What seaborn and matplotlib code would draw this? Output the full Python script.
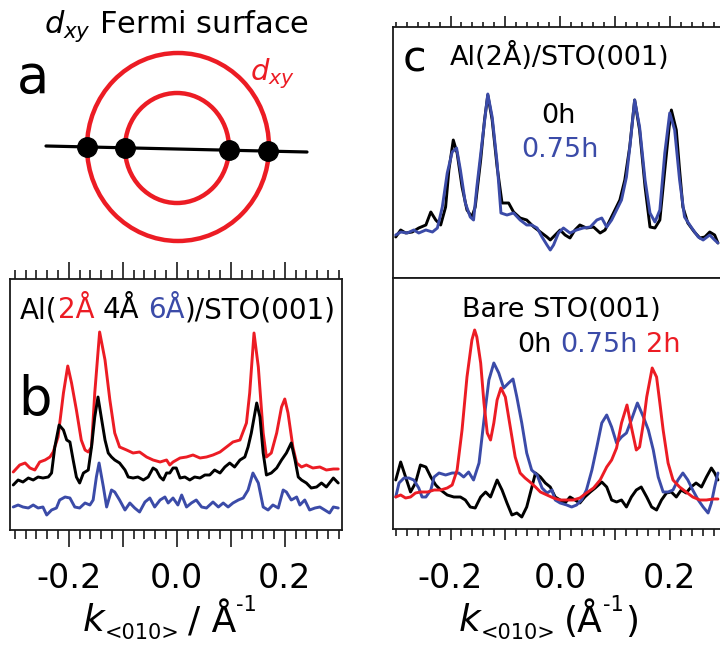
import numpy as np
import pandas as pd
import seaborn as sns
import matplotlib.pyplot as plt
from matplotlib.patches import Ellipse

RED = "#ec1c24"
BLUE = "#3b4ba8"
BLACK = "#000000"

# ---- panel b : Al(2,4,6 A)/STO(001) MDCs (intensity in arb. units, offset included)
kb_red = [-0.303, -0.291, -0.281, -0.272, -0.263, -0.254, -0.244, -0.235, -0.229, -0.220,
          -0.210, -0.202, -0.195, -0.186, -0.177, -0.170, -0.164, -0.158, -0.152, -0.143,
          -0.133, -0.124, -0.115, -0.106, -0.093, -0.081, -0.069, -0.056, -0.044, -0.031,
          -0.019, -0.013, -0.007, 0.006, 0.018, 0.030, 0.043, 0.055, 0.067, 0.080,
          0.092, 0.104, 0.117, 0.129, 0.135, 0.143, 0.151, 0.160, 0.166, 0.175,
          0.185, 0.194, 0.200, 0.206, 0.215, 0.222, 0.231, 0.240, 0.252, 0.265,
          0.277, 0.290, 0.299]
ib_red = [58, 65, 67, 62, 60, 68, 70, 73, 78, 93,
          137, 164, 147, 120, 90, 80, 78, 83, 137, 198,
          170, 130, 97, 83, 80, 77, 78, 73, 70, 68,
          70, 65, 68, 72, 73, 75, 72, 73, 75, 78,
          83, 88, 90, 107, 137, 197, 163, 97, 73, 77,
          97, 123, 131, 117, 83, 67, 63, 65, 62, 63,
          60, 61, 61]

kb_black = [-0.303, -0.294, -0.285, -0.275, -0.266, -0.257, -0.248, -0.238, -0.232, -0.226,
            -0.218, -0.210, -0.204, -0.198, -0.192, -0.186, -0.180, -0.173, -0.164, -0.158,
            -0.152, -0.146, -0.140, -0.133, -0.127, -0.121, -0.115, -0.106, -0.096, -0.090,
            -0.081, -0.072, -0.062, -0.053, -0.044, -0.038, -0.031, -0.025, -0.019, -0.013,
            -0.007, -0.001, 0.006, 0.015, 0.024, 0.033, 0.043, 0.052, 0.061, 0.070,
            0.080, 0.089, 0.098, 0.107, 0.117, 0.126, 0.132, 0.138, 0.148, 0.154,
            0.160, 0.166, 0.175, 0.185, 0.194, 0.203, 0.212, 0.219, 0.225, 0.231,
            0.240, 0.249, 0.259, 0.268, 0.277, 0.290, 0.299]
ib_black = [45, 50, 48, 52, 50, 53, 52, 53, 57, 83,
            105, 100, 90, 88, 70, 53, 47, 57, 60, 83,
            113, 133, 113, 90, 77, 73, 70, 67, 60, 53,
            52, 53, 50, 53, 62, 60, 53, 50, 57, 57,
            62, 62, 52, 53, 50, 53, 52, 55, 55, 60,
            57, 63, 67, 63, 70, 73, 83, 97, 127, 113,
            77, 55, 57, 62, 70, 77, 87, 70, 53, 50,
            47, 42, 43, 47, 43, 52, 47]

kb_blue = [-0.303, -0.294, -0.285, -0.275, -0.266, -0.257, -0.248, -0.241, -0.232, -0.223,
           -0.217, -0.207, -0.198, -0.189, -0.180, -0.170, -0.161, -0.155, -0.149, -0.144,
           -0.136, -0.130, -0.121, -0.115, -0.106, -0.096, -0.087, -0.078, -0.069, -0.059,
           -0.050, -0.041, -0.031, -0.022, -0.016, -0.007, 0.002, 0.009, 0.018, 0.027,
           0.036, 0.046, 0.055, 0.067, 0.077, 0.086, 0.095, 0.104, 0.114, 0.123,
           0.132, 0.141, 0.151, 0.160, 0.169, 0.178, 0.188, 0.197, 0.203, 0.212,
           0.222, 0.228, 0.237, 0.246, 0.256, 0.265, 0.274, 0.283, 0.290, 0.299]
ib_blue = [23, 25, 23, 22, 25, 22, 23, 15, 20, 22,
           30, 33, 32, 23, 22, 27, 25, 30, 53, 67,
           43, 23, 40, 38, 30, 20, 27, 22, 18, 28,
           32, 23, 30, 33, 27, 32, 25, 35, 23, 27,
           30, 23, 22, 28, 23, 27, 23, 27, 30, 32,
           40, 57, 47, 23, 20, 25, 22, 40, 38, 30,
           33, 25, 30, 20, 22, 23, 20, 17, 23, 22]

# ---- panel c top : Al(2A)/STO(001), 0h and 0.75h
kc1_0h = [-0.300, -0.291, -0.282, -0.270, -0.258, -0.245, -0.236, -0.227, -0.218, -0.209,
          -0.203, -0.195, -0.188, -0.179, -0.170, -0.161, -0.155, -0.145, -0.138, -0.132,
          -0.124, -0.115, -0.106, -0.094, -0.085, -0.073, -0.061, -0.048, -0.036, -0.024,
          -0.018, -0.009, 0.000, 0.009, 0.018, 0.027, 0.036, 0.048, 0.061, 0.073,
          0.082, 0.091, 0.100, 0.109, 0.118, 0.127, 0.136, 0.145, 0.155, 0.164,
          0.173, 0.182, 0.191, 0.199, 0.203, 0.212, 0.218, 0.224, 0.233, 0.245,
          0.255, 0.264, 0.273, 0.282, 0.288]
ic1_0h = [41, 48, 45, 46, 50, 53, 66, 58, 53, 71,
          108, 138, 125, 91, 68, 61, 71, 118, 158, 183,
          158, 111, 75, 75, 66, 60, 58, 51, 46, 41,
          38, 43, 48, 43, 40, 48, 53, 50, 51, 45,
          48, 58, 68, 78, 98, 131, 178, 148, 91, 51,
          50, 58, 108, 151, 168, 148, 108, 71, 55, 46,
          40, 41, 46, 43, 35]

kc1_075h = [-0.300, -0.291, -0.279, -0.267, -0.258, -0.245, -0.233, -0.224, -0.215, -0.206,
            -0.197, -0.189, -0.182, -0.173, -0.164, -0.158, -0.152, -0.142, -0.132, -0.124,
            -0.115, -0.108, -0.097, -0.085, -0.073, -0.061, -0.052, -0.042, -0.033, -0.024,
            -0.018, -0.012, -0.003, 0.006, 0.018, 0.030, 0.042, 0.055, 0.067, 0.076,
            0.085, 0.094, 0.103, 0.112, 0.121, 0.128, 0.136, 0.145, 0.155, 0.164,
            0.173, 0.182, 0.191, 0.200, 0.209, 0.218, 0.227, 0.239, 0.252, 0.261,
            0.273, 0.282, 0.288]
ic1_075h = [43, 46, 45, 48, 45, 48, 46, 50, 71, 105,
            126, 130, 108, 75, 61, 58, 91, 138, 184, 161,
            115, 65, 63, 65, 58, 53, 53, 50, 41, 33,
            28, 33, 45, 50, 45, 48, 50, 51, 58, 60,
            51, 58, 68, 78, 101, 135, 178, 151, 98, 65,
            56, 68, 125, 165, 148, 98, 61, 51, 41, 38,
            43, 38, 35]

# ---- panel c bottom : bare STO(001), 0h / 0.75h / 2h
kc2_0h = [-0.300, -0.291, -0.282, -0.273, -0.264, -0.255, -0.245, -0.236, -0.227, -0.218,
          -0.206, -0.194, -0.182, -0.173, -0.164, -0.155, -0.145, -0.136, -0.127, -0.115,
          -0.106, -0.097, -0.088, -0.079, -0.070, -0.061, -0.052, -0.045, -0.036, -0.027,
          -0.018, -0.009, 0.000, 0.009, 0.018, 0.027, 0.036, 0.045, 0.055, 0.064,
          0.076, 0.085, 0.094, 0.103, 0.112, 0.121, 0.130, 0.139, 0.148, 0.158,
          0.167, 0.176, 0.185, 0.194, 0.203, 0.212, 0.221, 0.230, 0.239, 0.248,
          0.258, 0.267, 0.276, 0.282, 0.288]
ic2_0h = [49, 67, 52, 37, 46, 64, 62, 52, 44, 39,
          34, 32, 32, 29, 22, 21, 32, 37, 32, 49,
          39, 26, 14, 16, 12, 22, 41, 56, 52, 46,
          42, 32, 29, 26, 32, 29, 26, 32, 37, 41,
          47, 42, 29, 27, 29, 22, 32, 39, 42, 32,
          22, 19, 29, 36, 37, 32, 39, 36, 42, 46,
          42, 52, 61, 56, 49]

kc2_075h = [-0.300, -0.294, -0.285, -0.276, -0.267, -0.258, -0.252, -0.245, -0.236, -0.230,
            -0.221, -0.209, -0.197, -0.185, -0.176, -0.167, -0.158, -0.148, -0.139, -0.130,
            -0.121, -0.112, -0.103, -0.094, -0.086, -0.079, -0.070, -0.061, -0.052, -0.042,
            -0.033, -0.024, -0.015, -0.009, 0.000, 0.012, 0.021, 0.030, 0.039, 0.048,
            0.058, 0.067, 0.076, 0.085, 0.094, 0.103, 0.112, 0.121, 0.130, 0.141,
            0.152, 0.161, 0.170, 0.179, 0.188, 0.197, 0.206, 0.215, 0.224, 0.233,
            0.242, 0.252, 0.261, 0.270, 0.276, 0.282, 0.288]
ic2_075h = [32, 46, 51, 51, 49, 41, 32, 32, 39, 52,
            56, 54, 56, 56, 52, 57, 49, 66, 109, 149,
            166, 156, 141, 146, 150, 132, 106, 76, 59, 54,
            41, 36, 39, 29, 26, 24, 22, 24, 29, 39,
            59, 82, 106, 114, 102, 86, 92, 96, 109, 126,
            112, 99, 79, 52, 37, 37, 39, 49, 56, 49,
            39, 29, 22, 16, 26, 42, 56]

kc2_2h = [-0.300, -0.291, -0.282, -0.273, -0.264, -0.255, -0.242, -0.230, -0.218, -0.206,
          -0.197, -0.188, -0.179, -0.170, -0.161, -0.156, -0.152, -0.145, -0.139, -0.133,
          -0.127, -0.121, -0.115, -0.108, -0.100, -0.091, -0.082, -0.073, -0.064, -0.055,
          -0.045, -0.036, -0.024, -0.012, 0.000, 0.012, 0.024, 0.036, 0.048, 0.061,
          0.073, 0.085, 0.094, 0.103, 0.112, 0.122, 0.130, 0.139, 0.145, 0.152,
          0.158, 0.168, 0.176, 0.182, 0.188, 0.197, 0.206, 0.218, 0.230, 0.242,
          0.255, 0.267, 0.279, 0.288]
ic2_2h = [32, 34, 31, 32, 36, 37, 37, 39, 39, 41,
          44, 59, 99, 152, 189, 199, 192, 166, 126, 96,
          89, 106, 129, 141, 132, 102, 72, 56, 51, 47,
          42, 37, 34, 31, 29, 29, 29, 31, 36, 41,
          49, 62, 69, 81, 106, 124, 102, 79, 82, 106,
          132, 161, 152, 126, 99, 66, 49, 42, 37, 32,
          29, 29, 30, 30]

# ---- panel a schematic (drawn in pixel units of its own axes)
ring_centers = [(178, 147), (177, 148)]
ring_sizes = [(182, 188), (104, 110)]
cut_x = [46, 307]
cut_y = [146, 152]
cross_x = [87, 125, 229, 268]
cross_y = [147, 148, 150, 151]

W, H = 720, 648


def fx(x):
    return x / W


def fy(y):
    return 1 - y / H


def frame(k, inten, name):
    return pd.DataFrame({"k": k, "intensity": inten, "series": name})


def draw_curves(ax, frames, colors):
    df = pd.concat(frames, ignore_index=True)
    sns.lineplot(data=df, x="k", y="intensity", hue="series",
                 hue_order=list(colors), palette=colors, estimator=None,
                 sort=False, lw=2.1, legend=False, ax=ax)
    ax.set_xlabel("")
    ax.set_ylabel("")
    ax.set_ylim(0, 251)
    ax.tick_params(axis="y", left=False, right=False, labelleft=False)
    for s in ax.spines.values():
        s.set_linewidth(1.3)
        s.set_color("#1a1a1a")


def set_kticks(ax, top, bottom, major_len, minor_len, labels, pad=10):
    ax.set_xticks([-0.2, -0.1, 0.0, 0.1, 0.2])
    ax.set_xticks(np.arange(-0.30, 0.301, 0.02), minor=True)
    ax.set_xticklabels(["-0.2", "", "0.0", "", "0.2"])
    ax.tick_params(axis="x", which="both", direction="out", top=top, bottom=bottom,
                   labeltop=False, labelbottom=labels, width=1.2, color="#1a1a1a",
                   labelcolor=BLACK, labelsize=24, pad=pad)
    ax.tick_params(axis="x", which="major", length=major_len)
    ax.tick_params(axis="x", which="minor", length=minor_len)


def chain(ax, x, y, parts):
    # text made of pieces placed one after another:
    # (text, colour, size, gap in pt, vertical shift in pt, style)
    s, c, size, _, _, style = parts[0]
    t = ax.text(fx(x), fy(y), s, color=c, fontsize=size, style=style, ha="left",
                va="baseline", transform=ax.figure.transFigure)
    for s, c, size, gap, dy, style in parts[1:]:
        t = ax.annotate(s, xy=(1, 0), xycoords=t, xytext=(gap, dy),
                        textcoords="offset points", color=c, fontsize=size,
                        style=style, ha="left", va="bottom")


sns.set_theme(style="ticks")
plt.rcParams["font.family"] = ["DejaVu Sans"]
plt.rcParams["text.color"] = BLACK
plt.rcParams["axes.unicode_minus"] = False
plt.rcParams["mathtext.fontset"] = "dejavusans"

fig = plt.figure(figsize=(7.2, 6.48), dpi=100)

# ---------------- panel a
ax_a = fig.add_axes([0, fy(255), 0.5, 255 / H])
ax_a.set_xlim(0, 360)
ax_a.set_ylim(255, 0)
ax_a.axis("off")
for (cx, cy), (w, h) in zip(ring_centers, ring_sizes):
    ax_a.add_patch(Ellipse((cx, cy), w, h, fill=False, ec=RED, lw=3.2))
ax_a.plot(cut_x, cut_y, color=BLACK, lw=2.3)
ax_a.plot(cross_x, cross_y, "o", color=BLACK, ms=14)
ax_a.text(176, 33, r"$d_{xy}$ Fermi surface", fontsize=22, ha="center", va="baseline")
ax_a.text(33, 93, "a", fontsize=38, ha="center", va="baseline")
ax_a.text(250, 80, r"$d_{xy}$", fontsize=21, color=RED, ha="left", va="baseline")

# ---------------- panel b
ax_b = fig.add_axes([fx(10), fy(530), 332 / W, 251 / H])
draw_curves(ax_b, [frame(kb_red, ib_red, "2 Å"),
                   frame(kb_black, ib_black, "4 Å"),
                   frame(kb_blue, ib_blue, "6 Å")],
            {"2 Å": RED, "4 Å": BLACK, "6 Å": BLUE})
ax_b.set_xlim(-0.309, 0.306)
set_kticks(ax_b, True, True, 12, 6.5, True, pad=11)
chain(ax_b, 20, 318, [("Al(", BLACK, 20, 0, 0, "normal"),
                      ("2Å", RED, 20, 0, 0, "normal"),
                      ("4Å", BLACK, 20, 6.4, 0, "normal"),
                      ("6Å", BLUE, 20, 6.4, 0, "normal"),
                      (")/STO(001)", BLACK, 20, 0, 0, "normal")])
fig.text(fx(35), fy(415), "b", fontsize=38, ha="center", va="baseline")
chain(ax_b, 83, 631, [("k", BLACK, 27, 0, 0, "italic"),
                      ("<010>", BLACK, 15, 0, -3.0, "normal"),
                      ("/ Å", BLACK, 26, 6, 3.0, "normal"),
                      ("-1", BLACK, 15, 0, 17, "normal")])

# ---------------- panel c
ax_c1 = fig.add_axes([fx(393), fy(278), 337 / W, 251 / H])
draw_curves(ax_c1, [frame(kc1_0h, ic1_0h, "0h"), frame(kc1_075h, ic1_075h, "0.75h")],
            {"0h": BLACK, "0.75h": BLUE})
ax_c1.set_xlim(-0.305, 0.31)
set_kticks(ax_c1, True, False, 8, 3.8, False)

ax_c2 = fig.add_axes([fx(393), fy(529), 337 / W, 251 / H])
draw_curves(ax_c2, [frame(kc2_0h, ic2_0h, "0h"), frame(kc2_075h, ic2_075h, "0.75h"),
                    frame(kc2_2h, ic2_2h, "2h")],
            {"0h": BLACK, "0.75h": BLUE, "2h": RED})
ax_c2.set_xlim(-0.305, 0.31)
set_kticks(ax_c2, False, True, 8, 5, True, pad=16)

fig.text(fx(414), fy(72), "c", fontsize=31, ha="center", va="baseline")
fig.text(fx(560), fy(65), "Al(2Å)/STO(001)", fontsize=19.5, ha="center", va="baseline")
fig.text(fx(558), fy(123), "0h", fontsize=19.5, color=BLACK, ha="center", va="baseline")
fig.text(fx(560), fy(157), "0.75h", fontsize=19.5, color=BLUE, ha="center", va="baseline")
fig.text(fx(561), fy(317), "Bare STO(001)", fontsize=19.5, ha="center", va="baseline")
chain(ax_c2, 517, 352, [("0h", BLACK, 19.5, 0, 0, "normal"),
                        ("0.75h", BLUE, 19.5, 6.2, 0, "normal"),
                        ("2h", RED, 19.5, 6.2, 0, "normal")])
chain(ax_c2, 459, 631, [("k", BLACK, 27, 0, 0, "italic"),
                        ("<010>", BLACK, 15, 0, -3.0, "normal"),
                        ("(Å", BLACK, 26, 6, 3.0, "normal"),
                        ("-1", BLACK, 15, 0, 17, "normal"),
                        (")", BLACK, 26, 1, -17, "normal")])

fig.savefig("out.png", dpi=100)
